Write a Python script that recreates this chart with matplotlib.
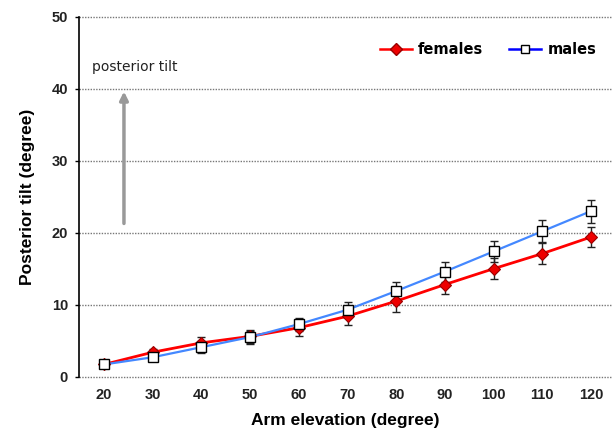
#!/usr/bin/env python3

import matplotlib.pyplot as plt
from matplotlib.lines import Line2D
from matplotlib import font_manager
import numpy as np

# arm elevation (degree) and posterior tilt (degree)
elevation = [20, 30, 40, 50, 60, 70, 80, 90, 100, 110, 120]
females = [1.7, 3.4, 4.7, 5.6, 6.8, 8.4, 10.5, 12.8, 15.0, 17.1, 19.4]
females_err = [0.3, 0.5, 0.8, 0.9, 1.1, 1.2, 1.5, 1.35, 1.45, 1.5, 1.4]
males = [1.7, 2.7, 4.1, 5.5, 7.3, 9.3, 11.9, 14.6, 17.4, 20.2, 23.0]
males_err = [0.3, 0.5, 0.8, 0.9, 0.9, 1.05, 1.25, 1.4, 1.45, 1.5, 1.6]
yticks = [0, 10, 20, 30, 40, 50]

names = {f.name for f in font_manager.fontManager.ttflist}
tick_font = 'Liberation Sans Narrow' if 'Liberation Sans Narrow' in names else 'Liberation Sans'
label_font = {'family': 'Liberation Sans', 'weight': 'bold', 'size': 12.5}

if __name__ == "__main__":
  fig = plt.figure(figsize=(6.13, 4.36), dpi=100)
  ax = fig.add_axes([79/613, 59.3/436, 533/613, 360/436])

  ax.plot(elevation, females, '-', color='#ff0000', lw=2.0, zorder=3)
  ax.plot(elevation, males, '-', color='#4488ff', lw=1.6, zorder=4)
  ax.errorbar(elevation, females, yerr=females_err, fmt='none', ecolor='#222222',
              elinewidth=1.0, capsize=3, capthick=1.0, zorder=5)
  ax.errorbar(elevation, males, yerr=males_err, fmt='none', ecolor='#222222',
              elinewidth=1.0, capsize=3, capthick=1.0, zorder=5)
  ax.plot(elevation, females, 'D', ms=6.5, mfc='#ee0000', mec='#990000', mew=0.8, zorder=6)
  ax.plot(elevation, males, 's', ms=7, mfc='white', mec='black', mew=1.0, zorder=7)

  ax.set_xlim(14.87, 124.3)
  ax.set_ylim(0, 50)
  ax.set_xticks(elevation)
  ax.set_yticks(yticks)
  for lab in ax.get_xticklabels() + ax.get_yticklabels():
    lab.set_fontfamily(tick_font)
    lab.set_fontweight('bold')
    lab.set_fontsize(10.5)
    lab.set_color('#222222')
  ax.tick_params(axis='x', length=0, pad=8)
  ax.tick_params(axis='y', length=3, width=1, pad=5)

  ax.yaxis.grid(True, linestyle=(0, (1, 1)), color='#777777', lw=1.0)
  for gl in ax.get_ygridlines():
    gl.set_clip_on(False)
  ax.set_axisbelow(True)
  for s in ['top', 'right', 'bottom']:
    ax.spines[s].set_visible(False)
  ax.spines['left'].set_linewidth(1.2)

  ax.set_xlabel('Arm elevation (degree)', labelpad=8, **label_font)
  ax.set_ylabel('Posterior tilt (degree)', labelpad=12, **label_font)

  ax.annotate('', xy=(24.1, 40), xytext=(24.1, 20.9),
              arrowprops=dict(arrowstyle='-|>', color='#999999', lw=2.5, mutation_scale=12))
  ax.text(17.5, 43.0, 'posterior tilt', fontsize=10, color='#222222',
          family='DejaVu Sans', va='center', ha='left')

  handles = [Line2D([], [], color='#ff0000', lw=1.8, marker='D', ms=6,
                    mfc='#ee0000', mec='#990000'),
             Line2D([], [], color='#0000ff', lw=1.8, marker='s', ms=6,
                    mfc='white', mec='black')]
  leg = ax.legend(handles, ['females', 'males'], loc='upper left',
                  bbox_to_anchor=(0.54, 0.965), ncol=2, frameon=False,
                  handlelength=2.2, handletextpad=0.4, columnspacing=1.8,
                  prop={'family': 'DejaVu Sans', 'weight': 'bold', 'size': 10.5})

  fig.savefig('out.png', dpi=100)
  plt.close("all")
